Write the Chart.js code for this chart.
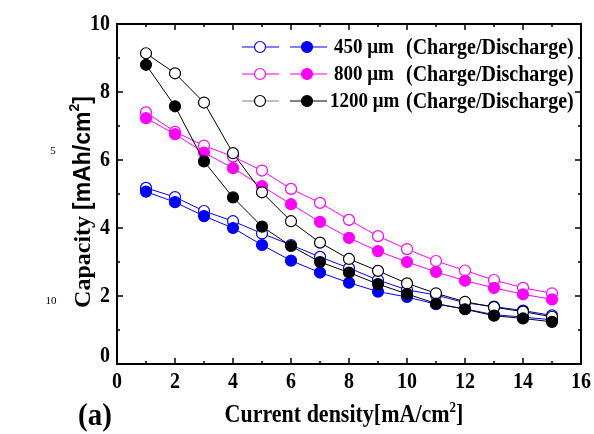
<!DOCTYPE html>
<html>
<head>
<meta charset="utf-8">
<script src="https://cdn.jsdelivr.net/npm/chart.js@4.4.0/dist/chart.umd.min.js"></script>
<style>
  html, body { margin: 0; padding: 0; background: #fff; }
  #wrap { width: 594px; height: 434px; }
</style>
</head>
<body>
<div id="wrap"><canvas id="capChart" width="594" height="434"></canvas></div>
<script>
// --- Data ---
const currentDensity = [1, 2, 3, 4, 5, 6, 7, 8, 9, 10, 11, 12, 13, 14, 15];

const charge450    = [5.18, 4.91, 4.50, 4.20, 3.84, 3.50, 3.15, 2.82, 2.47, 2.18, 2.03, 1.80, 1.69, 1.57, 1.43];
const discharge450 = [5.07, 4.76, 4.35, 4.00, 3.50, 3.04, 2.69, 2.39, 2.13, 1.97, 1.76, 1.62, 1.45, 1.38, 1.30];
const charge800    = [7.40, 6.83, 6.42, 6.10, 5.69, 5.15, 4.74, 4.24, 3.76, 3.38, 3.03, 2.75, 2.47, 2.24, 2.08];
const discharge800 = [7.23, 6.76, 6.22, 5.76, 5.23, 4.70, 4.18, 3.71, 3.32, 3.00, 2.71, 2.45, 2.24, 2.05, 1.90];
const charge1200   = [9.14, 8.55, 7.69, 6.20, 5.05, 4.20, 3.57, 3.09, 2.74, 2.37, 2.08, 1.83, 1.67, 1.54, 1.39];
const discharge1200= [8.80, 7.58, 5.96, 4.90, 4.04, 3.47, 3.00, 2.69, 2.35, 2.06, 1.78, 1.61, 1.42, 1.34, 1.24];

const xTicks = [0, 2, 4, 6, 8, 10, 12, 14, 16];
const yTicks = [0, 2, 4, 6, 8, 10];

const legendSizes = ["450 \u03bcm", "800 \u03bcm", "1200 \u03bcm"];
const legendNote = "(Charge/Discharge)";

const BLUE = "#0000ff", MAGENTA = "#ff00ff", BLACK = "#000000";
const SERIF = "'Liberation Serif', 'DejaVu Serif', serif";
const SANS = "'Liberation Sans', Arial, sans-serif";
const STRETCH = 1.12; // the figure's text is a bit taller than wide

function toPoints(vals) {
  return vals.map((v, i) => ({ x: currentDensity[i], y: v }));
}

function series(label, vals, color, filled) {
  return {
    label: label,
    data: toPoints(vals),
    borderColor: color,
    borderWidth: 1,
    pointRadius: 5.5,
    pointBorderWidth: 1.2,
    pointBorderColor: color,
    pointBackgroundColor: filled ? color : "#ffffff",
    fill: false,
    tension: 0
  };
}

// first in list is drawn on top
const datasets = [
  series("1200 discharge", discharge1200, BLACK, true),
  series("1200 charge", charge1200, BLACK, false),
  series("450 discharge", discharge450, BLUE, true),
  series("450 charge", charge450, BLUE, false),
  series("800 discharge", discharge800, MAGENTA, true),
  series("800 charge", charge800, MAGENTA, false)
];

// text drawn slightly stretched vertically
function tallText(c, txt, x, y, sy) {
  c.save();
  c.translate(x, y);
  c.scale(1, sy || STRETCH);
  c.fillText(txt, 0, 0);
  c.restore();
}

// --- Axes frame, inward ticks, labels, titles, legend ---
const decorPlugin = {
  id: "decor",
  afterDraw(chart) {
    const c = chart.ctx;
    const xs = chart.scales.x, ys = chart.scales.y;
    const a = chart.chartArea;
    c.save();
    c.strokeStyle = "#000";
    c.fillStyle = "#000";

    // ticks (major every 2, minor every 1)
    c.lineWidth = 1.5;
    for (let v = 0; v <= 16; v++) {
      const px = xs.getPixelForValue(v);
      const len = v % 2 === 0 ? 6 : 3;
      c.beginPath();
      c.moveTo(px, a.bottom); c.lineTo(px, a.bottom - len);
      c.moveTo(px, a.top); c.lineTo(px, a.top + len);
      c.stroke();
    }
    for (let v = 0; v <= 10; v++) {
      const py = ys.getPixelForValue(v);
      const len = v % 2 === 0 ? 6 : 3;
      c.beginPath();
      c.moveTo(a.left, py); c.lineTo(a.left + len, py);
      c.moveTo(a.right, py); c.lineTo(a.right - len, py);
      c.stroke();
    }

    // frame
    c.lineWidth = 2;
    c.strokeRect(a.left, a.top, a.right - a.left, a.bottom - a.top);

    // tick labels
    c.font = "bold 20px " + SERIF;
    c.textAlign = "center";
    c.textBaseline = "top";
    xTicks.forEach(v => tallText(c, String(v), xs.getPixelForValue(v), a.bottom + 7));
    c.textAlign = "right";
    c.textBaseline = "middle";
    yTicks.forEach(v => {
      let py = ys.getPixelForValue(v);
      if (v === 0) py -= 8;
      tallText(c, String(v), a.left - 7, py);
    });

    // x title with superscript
    const xt1 = "Current density[mA/cm", xt2 = "2", xt3 = "]";
    c.font = "bold 22px " + SERIF;
    const w1 = c.measureText(xt1).width, w3 = c.measureText(xt3).width;
    c.font = "bold 13px " + SERIF;
    const w2 = c.measureText(xt2).width;
    let tx = 344 - (w1 + w2 + w3) / 2;
    const tyBase = 422;
    c.textAlign = "left";
    c.textBaseline = "alphabetic";
    c.font = "bold 22px " + SERIF;
    tallText(c, xt1, tx, tyBase);
    c.font = "bold 13px " + SERIF;
    tallText(c, xt2, tx + w1, tyBase - 10);
    c.font = "bold 22px " + SERIF;
    tallText(c, xt3, tx + w1 + w2, tyBase);

    // panel letter
    c.font = "bold 29px " + SERIF;
    tallText(c, "(a)", 78, 425);

    // y title, rotated, mixed fonts
    c.save();
    c.translate(90, 202);
    c.rotate(-Math.PI / 2);
    const yt1 = "Capacity ", yt2 = "[mAh/cm", yt3 = "2", yt4 = "]";
    c.font = "bold 24px " + SERIF;
    const y1w = c.measureText(yt1).width;
    c.font = "bold 23px " + SANS;
    const y2w = c.measureText(yt2).width, y4w = c.measureText(yt4).width;
    c.font = "bold 14px " + SANS;
    const y3w = c.measureText(yt3).width;
    let ux = -(y1w + y2w + y3w + y4w) / 2;
    c.font = "bold 24px " + SERIF;
    c.fillText(yt1, ux, 0); ux += y1w;
    c.font = "bold 23px " + SANS;
    c.fillText(yt2, ux, 0); ux += y2w;
    c.font = "bold 14px " + SANS;
    c.fillText(yt3, ux, -11); ux += y3w;
    c.font = "bold 23px " + SANS;
    c.fillText(yt4, ux, 0);
    c.restore();

    // manuscript line numbers
    c.font = "11px " + SERIF;
    c.textAlign = "center";
    c.fillText("5", 53, 154);
    c.fillText("10", 51, 304);

    // legend: open marker = charge, filled = discharge
    const rows = [
      { color: BLUE, openLine: BLUE, y: 47, textX: 334 },
      { color: MAGENTA, openLine: MAGENTA, y: 74, textX: 334 },
      { color: BLACK, openLine: "#808080", y: 101, textX: 330 }
    ];
    rows.forEach((r, i) => {
      c.lineWidth = 1.2;
      c.strokeStyle = r.openLine;
      c.beginPath(); c.moveTo(242, r.y); c.lineTo(279, r.y); c.stroke();
      c.strokeStyle = r.color;
      c.beginPath(); c.moveTo(290, r.y); c.lineTo(327, r.y); c.stroke();
      c.fillStyle = "#fff";
      c.beginPath(); c.arc(260, r.y, 5.5, 0, Math.PI * 2); c.fill(); c.stroke();
      c.fillStyle = r.color;
      c.beginPath(); c.arc(307, r.y, 5.5, 0, Math.PI * 2); c.fill(); c.stroke();
      c.fillStyle = "#000";
      c.textAlign = "left";
      c.textBaseline = "middle";
      c.font = "bold 19px " + SERIF;
      tallText(c, legendSizes[i], r.textX, r.y + 1);
      c.font = "bold 20px " + SERIF;
      tallText(c, legendNote, 406, r.y + 1);
    });
    c.restore();
  }
};

const ctx = document.getElementById("capChart").getContext("2d");
const capChart = new Chart(ctx, {
  type: "line",
  data: { datasets: datasets },
  options: {
    responsive: false,
    animation: false,
    layout: { padding: { left: 117, top: 24, right: 13, bottom: 70 } },
    scales: {
      x: { type: "linear", min: 0, max: 16, display: false },
      y: { type: "linear", min: 0, max: 10, display: false }
    },
    plugins: {
      legend: { display: false },
      tooltip: { enabled: false },
      title: { display: false }
    }
  },
  plugins: [decorPlugin]
});
</script>
</body>
</html>
